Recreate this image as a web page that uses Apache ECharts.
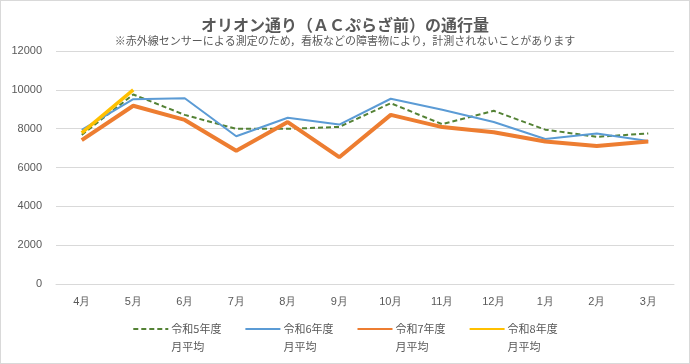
<!DOCTYPE html>
<html>
<head>
<meta charset="utf-8">
<script src="https://cdn.jsdelivr.net/npm/echarts@6/dist/echarts.min.js"></script>
<style>
  html, body { margin: 0; padding: 0; background: #fff; }
  #chart { width: 688px; height: 362px; border: 1px solid #d9d9d9; }
</style>
</head>
<body>
<div id="chart"></div>
<script>
const months = ['4月', '5月', '6月', '7月', '8月', '9月', '10月', '11月', '12月', '1月', '2月', '3月'];
const r5 = [7680, 9760, 8710, 7990, 7990, 8090, 9310, 8230, 8920, 7950, 7580, 7750];
const r6 = [7940, 9520, 9570, 7610, 8560, 8210, 9540, 8970, 8340, 7470, 7750, 7360];
const r7 = [7410, 9180, 8450, 6860, 8340, 6530, 8710, 8080, 7820, 7340, 7110, 7340];
const r8 = [7780, 10000];

const chart = echarts.init(document.getElementById('chart'));

const options = {
  animation: false,
  title: {
    text: 'オリオン通り（ＡＣぷらざ前）の通行量',
    subtext: '※赤外線センサーによる測定のため，看板などの障害物により，計測されないことがあります',
    left: 'center',
    top: 11,
    itemGap: 2,
    textStyle: { fontSize: 16, fontWeight: 'bold', color: '#595959', fontFamily: 'Noto Sans CJK JP' },
    subtextStyle: { fontSize: 11, color: '#595959', fontFamily: 'Noto Sans CJK JP' }
  },
  legend: {
    top: 296,
    left: 'center',
    itemWidth: 35,
    itemGap: 23,
    itemStyle: { opacity: 0 },
    // empty first line so the first text line sits level with the icon
    formatter: name => '\n' + name,
    textStyle: { fontSize: 11, color: '#595959', fontFamily: 'Noto Sans CJK JP', lineHeight: 18, padding: [0, 0, 0, -2] },
    data: ['令和5年度\n月平均', '令和6年度\n月平均', '令和7年度\n月平均', '令和8年度\n月平均']
  },
  grid: { left: 55, right: 15, top: 50, bottom: 79 },
  xAxis: {
    type: 'category',
    data: months,
    axisLine: { lineStyle: { color: '#d9d9d9' } },
    axisTick: { show: false },
    axisLabel: { color: '#595959', fontSize: 11, margin: 12 }
  },
  yAxis: {
    type: 'value',
    min: 0,
    max: 12000,
    interval: 2000,
    axisLabel: { color: '#595959', fontSize: 11, margin: 14, formatter: v => String(v) },
    splitLine: { lineStyle: { color: '#d9d9d9' } }
  },
  series: [
    {
      name: '令和5年度\n月平均', type: 'line', data: r5, symbol: 'none',
      lineStyle: { color: '#548235', width: 2, type: [5, 3] }, itemStyle: { color: '#548235' }
    },
    {
      name: '令和6年度\n月平均', type: 'line', data: r6, symbol: 'none',
      lineStyle: { color: '#5B9BD5', width: 2 }, itemStyle: { color: '#5B9BD5' }
    },
    {
      name: '令和7年度\n月平均', type: 'line', data: r7, symbol: 'none',
      lineStyle: { color: '#ED7D31', width: 4 }, itemStyle: { color: '#ED7D31' }
    },
    {
      name: '令和8年度\n月平均', type: 'line', data: r8, symbol: 'none',
      lineStyle: { color: '#FFC000', width: 3.5 }, itemStyle: { color: '#FFC000' }
    }
  ]
};

chart.setOption(options);
</script>
</body>
</html>
